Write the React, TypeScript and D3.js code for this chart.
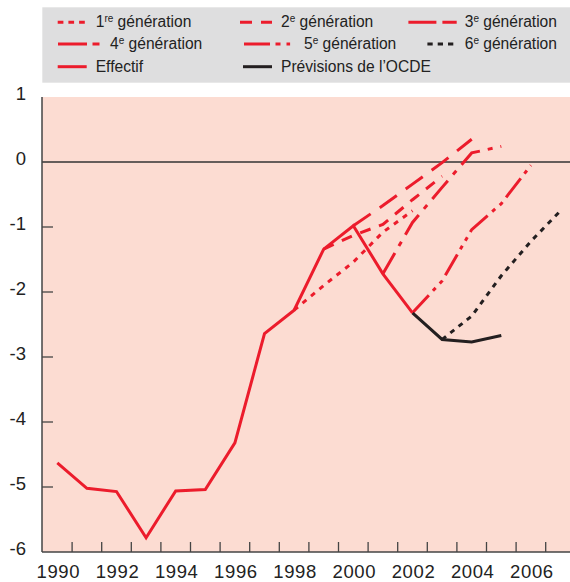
import React, { useEffect, useRef } from 'react';
import * as d3 from 'd3';

const W = 570;
const H = 582;

// solde effectif (red solid)
const effYears = [1990, 1991, 1992, 1993, 1994, 1995, 1996, 1997, 1998, 1999, 2000, 2001, 2002];
const effValues = [-4.63, -5.02, -5.07, -5.78, -5.06, -5.04, -4.32, -2.64, -2.28, -1.34, -0.98, -1.72, -2.32];

// prévisions de l'OCDE (black solid)
const ocdeYears = [2002, 2003, 2004, 2005];
const ocdeValues = [-2.32, -2.73, -2.77, -2.67];

// each generation starts at its first year, one value per year
const genStarts = [1998, 1999, 2000, 2001, 2002, 2003];
const gen1 = [-2.28, -1.9, -1.54, -1.08, -0.75];
const gen2 = [-1.34, -1.13, -0.96, -0.58, -0.22];
const gen3 = [-0.98, -0.67, -0.34, -0.01, 0.35];
const gen4 = [-1.72, -0.93, -0.39, 0.14, 0.24];
const gen5 = [-2.32, -1.83, -1.04, -0.64, -0.05];
const gen6 = [-2.73, -2.37, -1.75, -1.22, -0.75];

const yTicks = [1, 0, -1, -2, -3, -4, -5, -6];
const tickYears = d3.range(1990, 2007);
const xLabels = [1990, 1992, 1994, 1996, 1998, 2000, 2002, 2004, 2006];

const RED = '#ec1c2c';
const BLACK = '#231f20';

const dashes = ['5,6', '11,9', '21,11', '24,8,5,8', '24,6,4,6,4,6', '5,5.5'];

const App = () => {
  const svgRef = useRef(null);

  useEffect(() => {
    const svg = d3.select(svgRef.current);
    svg.selectAll('*').remove();

    const left = 42, right = 570, top = 97, bottom = 552;
    const y = d3.scaleLinear().domain([-6, 1]).range([bottom, top]);
    const x = d3.scaleLinear().domain([1990, 2007]).range([57.3, 560.5]);

    const numFont = '"Liberation Sans Narrow", "Arial Narrow", "Liberation Sans", Arial, sans-serif';
    const txtFont = '"Liberation Sans", Arial, sans-serif';

    // plot background
    svg.append('rect')
      .attr('x', left).attr('y', top)
      .attr('width', right - left).attr('height', bottom - top)
      .attr('fill', '#fcdcd2');

    // legend box
    svg.append('rect')
      .attr('x', 42.3).attr('y', 7.3)
      .attr('width', W - 42.3).attr('height', 75.4)
      .attr('fill', '#dededf');

    // zero line
    svg.append('line')
      .attr('x1', left).attr('x2', right)
      .attr('y1', y(0)).attr('y2', y(0))
      .attr('stroke', '#333').attr('stroke-width', 1.5);

    // y ticks
    svg.selectAll('.ytick')
      .data(yTicks.filter(d => d < 0 && d > -6))
      .enter().append('line')
      .attr('class', 'ytick')
      .attr('x1', left).attr('x2', left + 11)
      .attr('y1', d => y(d)).attr('y2', d => y(d))
      .attr('stroke', '#444').attr('stroke-width', 1.3);

    // x ticks between years
    svg.selectAll('.xtick')
      .data(tickYears)
      .enter().append('line')
      .attr('class', 'xtick')
      .attr('x1', d => x(d + 0.5))
      .attr('x2', d => x(d + 0.5))
      .attr('y1', bottom).attr('y2', bottom - 10)
      .attr('stroke', '#444').attr('stroke-width', 1.3);

    // axes
    svg.append('line')
      .attr('x1', left).attr('x2', left).attr('y1', top).attr('y2', bottom)
      .attr('stroke', '#444').attr('stroke-width', 1.5);
    svg.append('line')
      .attr('x1', left).attr('x2', right).attr('y1', bottom).attr('y2', bottom)
      .attr('stroke', '#444').attr('stroke-width', 1.5);

    // y labels
    svg.selectAll('.ylab')
      .data(yTicks)
      .enter().append('text')
      .attr('class', 'ylab')
      .attr('x', 26)
      .attr('y', d => y(d) + 3)
      .attr('text-anchor', 'end')
      .style('font-family', numFont)
      .style('font-size', '18.5px')
      .attr('fill', '#222')
      .text(d => d);

    // x labels
    svg.selectAll('.xlab')
      .data(xLabels)
      .enter().append('text')
      .attr('class', 'xlab')
      .attr('x', d => x(d) + 1)
      .attr('y', 578)
      .attr('text-anchor', 'middle')
      .style('font-family', numFont)
      .style('font-size', '18.5px')
      .style('letter-spacing', '0.6px')
      .attr('fill', '#222')
      .text(d => d);

    const line = d3.line().x(d => x(d[0])).y(d => y(d[1]));

    const gens = [gen1, gen2, gen3, gen4, gen5, gen6];
    gens.forEach((vals, i) => {
      const pts = vals.map((v, k) => [genStarts[i] + k, v]);
      svg.append('path')
        .attr('d', line(pts))
        .attr('fill', 'none')
        .attr('stroke', i === 5 ? BLACK : RED)
        .attr('stroke-width', 3)
        .attr('stroke-dasharray', dashes[i]);
    });

    svg.append('path')
      .attr('d', line(ocdeYears.map((yr, k) => [yr, ocdeValues[k]])))
      .attr('fill', 'none')
      .attr('stroke', BLACK)
      .attr('stroke-width', 3);

    svg.append('path')
      .attr('d', line(effYears.map((yr, k) => [yr, effValues[k]])))
      .attr('fill', 'none')
      .attr('stroke', RED)
      .attr('stroke-width', 3);

    // legend
    const rows = [27.3, 49, 71.7];
    const legendItems = [
      { num: '1', sup: 're', text: ' génération', dash: '5.7,5', color: RED, x1: 57.7, x2: 85, tx: 95.7, row: 0 },
      { num: '2', sup: 'e', text: ' génération', dash: '12,9', color: RED, x1: 240, x2: 272, tx: 281, row: 0 },
      { num: '3', sup: 'e', text: ' génération', dash: '28,6', color: RED, x1: 408.4, x2: 456.7, tx: 464.7, row: 0 },
      { num: '4', sup: 'e', text: ' génération', dash: '29,5.5,7,20', color: RED, x1: 58, x2: 100.5, tx: 110, row: 1 },
      { num: '5', sup: 'e', text: ' génération', dash: '26,5.5,5,6,3.6,20', color: RED, x1: 244, x2: 290.4, tx: 304, row: 1 },
      { num: '6', sup: 'e', text: ' génération', dash: '5.3,5', color: BLACK, x1: 427.4, x2: 453.7, tx: 464.7, row: 1 },
      { num: '', sup: '', text: 'Effectif', dash: null, color: RED, x1: 57.7, x2: 86.7, tx: 95.7, row: 2 },
      { num: '', sup: '', text: 'Prévisions de l’OCDE', dash: null, color: BLACK, x1: 243, x2: 272, tx: 281, row: 2 },
    ];

    legendItems.forEach(it => {
      const ty = rows[it.row];
      svg.append('line')
        .attr('x1', it.x1).attr('x2', it.x2)
        .attr('y1', ty - 5).attr('y2', ty - 5)
        .attr('stroke', it.color)
        .attr('stroke-width', 3)
        .attr('stroke-dasharray', it.dash);
      const t = svg.append('text')
        .attr('x', it.tx).attr('y', ty)
        .style('font-family', txtFont)
        .style('font-size', '15.6px')
        .attr('fill', '#222');
      if (it.num) {
        t.append('tspan').text(it.num);
        t.append('tspan').attr('dy', -5.5).style('font-size', '10px').text(it.sup);
        t.append('tspan').attr('dy', 5.5).text(it.text);
      } else {
        t.text(it.text);
      }
    });
  }, []);

  return (
    <svg
      ref={svgRef}
      width={W}
      height={H}
      style={{ position: 'absolute', left: 0, top: 0, background: '#fff' }}
    />
  );
};

export default App;
